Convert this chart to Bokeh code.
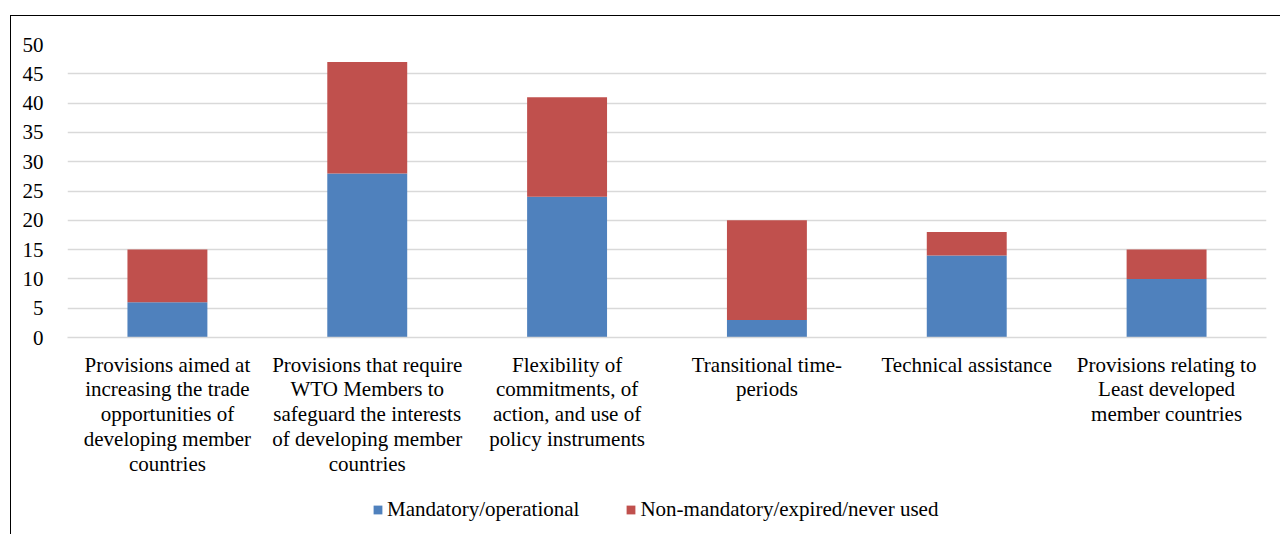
from bokeh.plotting import figure
from bokeh.layouts import column
from bokeh.models import FixedTicker, Legend, LegendItem, ColumnDataSource, Range1d
from bokeh.embed import file_html
from bokeh.resources import INLINE

categories = [
    "Provisions aimed at\nincreasing the trade\nopportunities of\ndeveloping member\ncountries",
    "Provisions that require\nWTO Members to\nsafeguard the interests\nof developing member\ncountries",
    "Flexibility of\ncommitments, of\naction, and use of\npolicy instruments",
    "Transitional time-\nperiods",
    "Technical assistance",
    "Provisions relating to\nLeast developed\nmember countries",
]
mandatory = [6, 28, 24, 3, 14, 10]
non_mandatory = [9, 19, 17, 17, 4, 5]
y_ticks = [0, 5, 10, 15, 20, 25, 30, 35, 40, 45, 50]
series = ["Mandatory/operational", "Non-mandatory/expired/never used"]
colors = ["#4F81BD", "#C0504D"]

FONT = "Liberation Serif"
FS = "21px"

source = ColumnDataSource(dict(cat=categories, m=mandatory, n=non_mandatory))

p = figure(x_range=categories, y_range=Range1d(0, 50),
           frame_width=1199, frame_height=293,
           output_backend="svg", toolbar_location=None,
           min_border_left=56, min_border_right=14, min_border_top=28, min_border_bottom=150)

p.vbar_stack(["m", "n"], x="cat", width=0.4, source=source,
             color=colors, line_color=None)

p.outline_line_color = None
p.xgrid.grid_line_color = None
p.ygrid.grid_line_color = "#D9D9D9"
p.ygrid.grid_line_width = 1.5
p.yaxis.ticker = FixedTicker(ticks=y_ticks)
p.yaxis.axis_line_color = None
p.yaxis.major_tick_line_color = None
p.yaxis.minor_tick_line_color = None
p.yaxis.major_label_text_font = FONT
p.yaxis.major_label_text_font_size = FS
p.yaxis.major_label_text_color = "#000000"
p.yaxis.major_label_standoff = 18

p.xaxis.axis_line_color = "#D9D9D9"
p.xaxis.axis_line_width = 1.5
p.xaxis.major_tick_line_color = None
p.xaxis.minor_tick_line_color = None
p.xaxis.major_label_text_font = FONT
p.xaxis.major_label_text_font_size = FS
p.xaxis.major_label_text_color = "#000000"
p.xaxis.major_label_standoff = 9
p.xaxis.major_label_text_line_height = 1.04

# legend row
p2 = figure(width=1269, height=47, x_range=Range1d(0, 1), y_range=Range1d(0, 1),
            output_backend="svg", toolbar_location=None, min_border=0)
p2.xaxis.visible = False
p2.yaxis.visible = False
p2.grid.visible = False
p2.outline_line_color = None
r1 = p2.vbar(x=[0.5], top=[0], bottom=[0], width=0.0, color=colors[0], line_color=None)
r2 = p2.vbar(x=[0.5], top=[0], bottom=[0], width=0.0, color=colors[1], line_color=None)

legend = Legend(items=[LegendItem(label=series[0], renderers=[r1]),
                       LegendItem(label=series[1], renderers=[r2])],
                orientation="horizontal", location=(305, 12))
legend.label_text_font = FONT
legend.label_text_font_size = FS
legend.label_text_color = "#000000"
legend.glyph_width = 11
legend.glyph_height = 11
legend.label_standoff = 4
legend.spacing = 46
legend.border_line_color = None
legend.background_fill_alpha = 0
legend.padding = 0
legend.margin = 0
p2.add_layout(legend, "center")

col = column(p, p2, spacing=0)
col.margin = (15, 0, 0, 10)
col.styles = {"border-top": "1px solid #000", "border-left": "1px solid #000"}

open("out.html", "w").write(file_html(col, INLINE))
